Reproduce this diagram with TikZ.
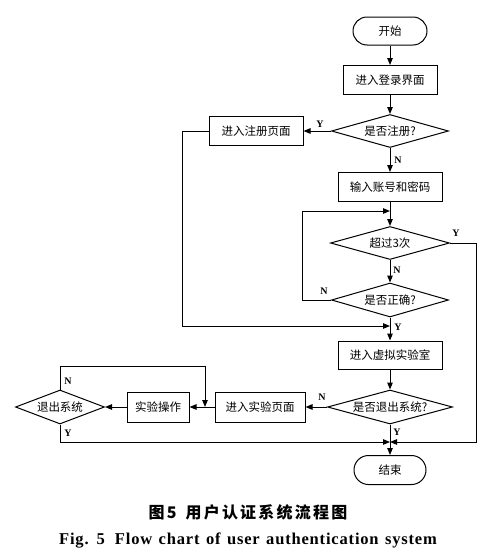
\documentclass[tikz,border=0pt]{standalone}
\usepackage{fontspec}
\setmainfont{Liberation Serif}
\newfontfamily\cjk{Noto Sans CJK SC}
\newfontfamily\cjkh[LetterSpace=14]{Noto Sans CJK SC}
\newfontfamily\capfont[LetterSpace=5,WordSpace=1.3]{Liberation Serif}
\usetikzlibrary{shapes.geometric,shapes.misc,arrows.meta}
\tikzset{
  box/.style={draw, line width=1pt, rectangle, minimum height=29pt, inner sep=0pt, font=\cjk\fontsize{11.5}{12}\selectfont},
  term/.style={draw, line width=1pt, rounded rectangle, inner sep=0pt, font=\cjk\fontsize{11.5}{12}\selectfont},
  dec/.style={draw, line width=1pt, diamond, aspect=3.5, inner sep=0pt, font=\cjk\fontsize{11.5}{12}\selectfont},
  arr/.style={-{Triangle[length=7pt,width=5.5pt]}, line width=1pt},
  lab/.style={font=\bfseries\fontsize{10}{10}\selectfont, inner sep=0pt}
}
\begin{document}
\begin{tikzpicture}[x=1pt,y=-1pt]
\useasboundingbox (0,0) rectangle (500,560);
\fill[white] (0,0) rectangle (500,560);
\node[term, minimum width=74pt, minimum height=28pt] (start) at (390,31) {开始};
\node[box, minimum width=94pt] (login) at (390,80) {进入登录界面};
\node[dec, minimum width=117pt, minimum height=33pt] (isreg) at (390,131) {是否注册?};
\node[box, minimum width=94pt] (regpage) at (256,131) {进入注册页面};
\node[box, minimum width=104pt] (input) at (390,187) {输入账号和密码};
\node[dec, minimum width=119pt, minimum height=33pt] (over) at (390,243) {超过3次};
\node[dec, minimum width=117pt, minimum height=34pt] (ok) at (390,300) {是否正确?};
\node[box, minimum width=104pt, minimum height=28pt] (vlab) at (390,355) {进入虚拟实验室};
\node[dec, minimum width=125pt, minimum height=34pt] (isexit) at (390,407) {是否退出系统?};
\node[box, minimum width=90pt, minimum height=30pt] (exppage) at (260,407) {进入实验页面};
\node[box, minimum width=62pt, minimum height=30pt] (op) at (158,407) {实验操作};
\node[dec, minimum width=89pt, minimum height=34pt] (exit) at (60,407) {退出系统};
\node[term, minimum width=72pt, minimum height=29pt] (end) at (390,470) {结束};
\coordinate (j1) at (390,211);
\coordinate (j2) at (390,326);
\coordinate (j3) at (390,442);
\coordinate (j4) at (205,407);
\draw[arr] (start) -- (login);
\draw[arr] (login) -- (isreg);
\draw[arr] (isreg.west) -- (regpage.east);
\draw[arr] (isreg.south) -- (input.north);
\draw[arr] (input.south) -- (over.north);
\draw[arr] (ok.west) -- ++(-29,0) |- (j1);
\draw[arr] (over.south) -- (ok.north);
\draw[arr] (over.east) -- ++(26,0) |- (j3);
\draw[arr] (regpage.west) -- ++(-26,0) |- (j2);
\draw[arr] (ok.south) -- (vlab.north);
\draw[arr] (vlab) -- (isexit);
\draw[arr] (isexit.west) -- (exppage.east);
\draw[arr] (exppage.west) -- (op.east);
\draw[arr] (op.west) -- (exit.east);
\draw[arr] (exit.north) -- ++(0,-23) -| (j4);
\draw[arr] (exit.south) |- (j3);
\draw[arr] (isexit.south) -- (end.north);
\node[lab] (y1) at (320,124) {Y};
\node[lab] (n1) at (398,160) {N};
\node[lab] (y2) at (456,233) {Y};
\node[lab] (n2) at (397,270) {N};
\node[lab] (n3) at (324,291) {N};
\node[lab] (y3) at (398,327) {Y};
\node[lab] (n4) at (322,397) {N};
\node[lab] (y4) at (397,432) {Y};
\node[lab] (n5) at (68,381) {N};
\node[lab] (y5) at (68,433) {Y};
\node[font=\cjkh\bfseries\fontsize{16}{16}\selectfont] (cap1) at (248,512) {图5\hspace{9pt}用户认证系统流程图};
\node[font=\capfont\bfseries\fontsize{16.5}{16.5}\selectfont] (cap2) at (248,541) {Fig. 5\hspace{10pt}Flow chart of user authentication system};
\end{tikzpicture}
\end{document}
